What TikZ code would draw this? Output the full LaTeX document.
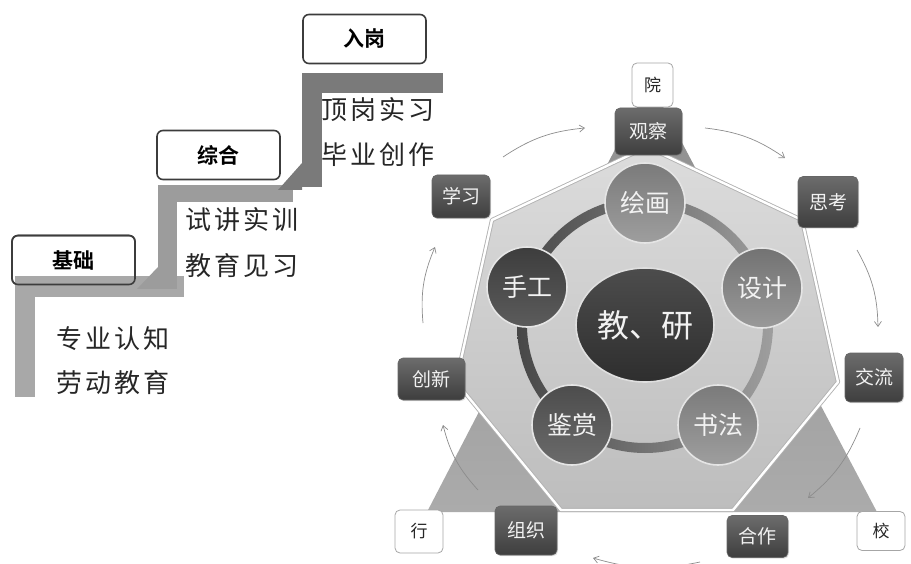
\documentclass[tikz,border=0pt]{standalone}
\usepackage{fontspec}
\newfontfamily\cjk{Noto Sans CJK SC}[BoldFont={Noto Sans CJK SC Bold}]
\newfontfamily\cjksp{Noto Sans CJK SC}[LetterSpace=12]
\usetikzlibrary{arrows.meta,shadows,shapes.geometric}
\definecolor{stepA}{HTML}{A8A8A8}
\definecolor{stepB}{HTML}{9C9C9C}
\definecolor{stepC}{HTML}{7A7A7A}
\definecolor{boxline}{HTML}{3C3C3C}
\definecolor{triTop}{HTML}{8E8E8E}
\definecolor{triBot}{HTML}{ABABAB}
\definecolor{hepTop}{HTML}{DCDCDC}
\definecolor{hepBot}{HTML}{BDBDBD}
\definecolor{darkTop}{HTML}{6C6C6C}
\definecolor{darkBot}{HTML}{3E3E3E}
\definecolor{arrowgray}{HTML}{8C8C8C}
\definecolor{txtwhite}{HTML}{F2F2F2}
\tikzset{
  stagebox/.style={draw=boxline, line width=1.6pt, fill=white, rounded corners=6pt,
    minimum width=123pt, minimum height=49pt, inner sep=0pt,
    font=\cjk\fontsize{21}{21}\selectfont\bfseries},
  steptext/.style={font=\cjksp\fontsize{26}{26}\selectfont, inner sep=0pt, text=black!85},
  darkbox/.style={draw=black!60, line width=0.6pt, top color=darkTop, bottom color=darkBot,
    rounded corners=5pt, inner sep=0pt, text=txtwhite,
    font=\cjk\fontsize{19}{19}\selectfont,
    drop shadow={opacity=0.25, shadow xshift=1pt, shadow yshift=-1.2pt}},
  whitebox/.style={draw=black!35, line width=0.8pt, fill=white, rounded corners=5pt,
    inner sep=0pt, font=\cjk\fontsize{17}{17}\selectfont, text=black!85},
  petal/.style={circle, minimum size=80pt, inner sep=0pt, draw=white!80!gray, line width=1.6pt,
    text=txtwhite, font=\cjk\fontsize{25}{25}\selectfont},
  cycarrow/.style={draw=arrowgray, line width=0.7pt, -{Straight Barb[length=5pt,width=7pt]}},
}
\begin{document}
\begin{tikzpicture}[x=1pt,y=-1pt]
\useasboundingbox (0,0) rectangle (911,564);

% ---------- staircase ----------
\node[stagebox] (jc) at (73.5,260) {};
\fill[stepA] (15,276) rectangle (35,397);
\fill[stepA] (15,276) rectangle (184,297);
\fill[stepB] (158,185) rectangle (177,289);
\fill[stepB] (137,289) -- (158,267) -- (158,289) -- cycle;
\fill[stepB] (158,185) rectangle (293,202);
\fill[stepC] (302,73) rectangle (322,187);
\fill[stepC] (278,190) -- (302,163) -- (302,190) -- cycle;
\fill[stepC] (302,73) rectangle (443,93);
\node[stagebox, fill=none] (jc2) at (73.5,260) {基础};
\node[stagebox] (zh) at (218.5,155) {综合};
\node[stagebox] (rg) at (364.5,39) {入岗};

\node[steptext] (t1) at (113,339) {专业认知};
\node[steptext] (t2) at (113,383) {劳动教育};
\node[steptext] (t3) at (242,220) {试讲实训};
\node[steptext] (t4) at (242,266) {教育见习};
\node[steptext] (t5) at (378,110) {顶岗实习};
\node[steptext] (t6) at (378,155) {毕业创作};

% ---------- triangle ----------
\shade[top color=triTop, bottom color=triBot] (650,82) -- (877,512) -- (427,512) -- cycle;

% ---------- heptagon ----------
\shade[top color=hepTop, bottom color=hepBot]
  (647,147) -- (802,220) -- (838,382) -- (733,510) -- (561,510) -- (456,382) -- (492,220) -- cycle;
\draw[black!30, line width=4.2pt, line join=round]
  (647,147) -- (802,220) -- (838,382) -- (733,510) -- (561,510) -- (456,382) -- (492,220) -- cycle;
\draw[white, line width=2.4pt, line join=round]
  (647,147) -- (802,220) -- (838,382) -- (733,510) -- (561,510) -- (456,382) -- (492,220) -- cycle;

% ---------- ring ----------
\coordinate (c) at (645,325);
\shade[even odd rule, left color=black!72, right color=black!38]
  (c) circle[radius=128] (c) circle[radius=118];

% ---------- centre and petals ----------
\node[ellipse, minimum width=138pt, minimum height=114pt, inner sep=0pt,
      top color=black!70, bottom color=black!82, draw=white!75!gray, line width=1.6pt,
      text=txtwhite, font=\cjk\fontsize{32}{32}\selectfont] (core) at (c) {教、研};
\node[petal, top color=black!52, bottom color=black!38] (hh) at (645,203) {绘画};
\node[petal, top color=black!55, bottom color=black!40] (sj) at (762,288) {设计};
\node[petal, top color=black!52, bottom color=black!38] (sf) at (718,425) {书法};
\node[petal, top color=black!70, bottom color=black!58] (js) at (572,425) {鉴赏};
\node[petal, top color=black!76, bottom color=black!64] (sg) at (527,287) {手工};

% ---------- outer boxes ----------
\node[whitebox, minimum width=41pt, minimum height=44pt] (yuan) at (652.5,85) {院};
\node[whitebox, minimum width=48pt, minimum height=43pt] (hang) at (419,531.5) {行};
\node[whitebox, minimum width=48pt, minimum height=39pt] (xiao) at (881,531) {校};

\node[darkbox, minimum width=67pt, minimum height=47pt] (gc) at (648.5,131.5) {观察};
\node[darkbox, minimum width=58pt, minimum height=43pt] (xx) at (461,196.5) {学习};
\node[darkbox, minimum width=60pt, minimum height=51pt] (sk) at (828,202) {思考};
\node[darkbox, minimum width=58pt, minimum height=49pt] (jl) at (874,377.5) {交流};
\node[darkbox, minimum width=67pt, minimum height=42pt] (cx) at (431.5,379) {创新};
\node[darkbox, minimum width=62pt, minimum height=49pt] (zz) at (526,530.5) {组织};
\node[darkbox, minimum width=61pt, minimum height=42pt] (hz) at (757.5,536.5) {合作};

% ---------- cycle arrows ----------
\coordinate (a1s) at (503,157); \coordinate (a1e) at (585,128);
\coordinate (a2s) at (705,128); \coordinate (a2e) at (785,158);
\coordinate (a3s) at (857,250); \coordinate (a3e) at (878,327);
\coordinate (a4s) at (860,428); \coordinate (a4e) at (808,498);
\coordinate (a5s) at (700,562); \coordinate (a5e) at (593,558);
\coordinate (a6s) at (478,490); \coordinate (a6e) at (443,425);
\coordinate (a7s) at (423,323); \coordinate (a7e) at (435,247);
\draw[cycarrow] (a1s) to[bend left=14] (a1e);
\draw[cycarrow] (a2s) to[bend left=14] (a2e);
\draw[cycarrow] (a3s) to[bend left=14] (a3e);
\draw[cycarrow] (a4s) to[bend left=14] (a4e);
\draw[cycarrow] (a5s) to[bend left=14] (a5e);
\draw[cycarrow] (a6s) to[bend left=14] (a6e);
\draw[cycarrow] (a7s) to[bend left=14] (a7e);
\end{tikzpicture}
\end{document}
